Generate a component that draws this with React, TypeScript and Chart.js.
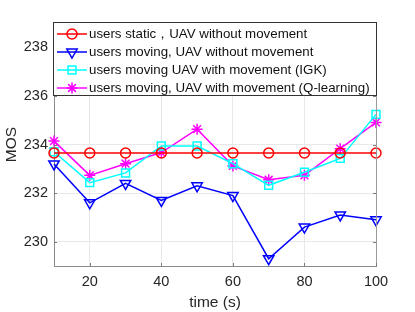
import React, { useEffect, useRef } from 'react';
import { Chart, registerables } from 'chart.js';

Chart.register(...registerables);

const timeSec = [10, 20, 30, 40, 50, 60, 70, 80, 90, 100];
const staticNoMove = [233.65, 233.65, 233.65, 233.65, 233.65, 233.65, 233.65, 233.65, 233.65, 233.65];
const movingNoMove = [233.2, 231.6, 232.4, 231.7, 232.3, 231.9, 229.3, 230.6, 231.1, 230.9];
const movingIGK = [233.7, 232.43, 232.83, 233.94, 233.94, 233.21, 232.32, 232.86, 233.43, 235.24];
const movingQL = [234.14, 232.73, 233.21, 233.67, 234.63, 233.12, 232.55, 232.73, 233.83, 234.91];
const xTicks = [20, 40, 60, 80, 100];
const yTicks = [230, 232, 234, 236, 238];
const seriesLabels = [
  'users static，UAV without movement',
  'users moving, UAV without movement',
  'users moving UAV with movement (IGK)',
  'users moving, UAV with movement (Q-learning)',
];

const FONT = "'Liberation Sans', Arial, Helvetica, sans-serif";

function drawMarker(ctx: CanvasRenderingContext2D, style: string, x: number, y: number, r: number, rotation: number) {
  ctx.beginPath();
  if (style === 'circle') {
    ctx.arc(x, y, r, 0, Math.PI * 2);
  } else if (style === 'triangle') {
    let rad = (rotation * Math.PI) / 180;
    ctx.moveTo(x + Math.sin(rad) * r, y - Math.cos(rad) * r);
    rad += (2 * Math.PI) / 3;
    ctx.lineTo(x + Math.sin(rad) * r, y - Math.cos(rad) * r);
    rad += (2 * Math.PI) / 3;
    ctx.lineTo(x + Math.sin(rad) * r, y - Math.cos(rad) * r);
    ctx.closePath();
  } else if (style === 'rect') {
    const s = Math.SQRT1_2 * r;
    ctx.rect(x - s, y - s, 2 * s, 2 * s);
  } else if (style === 'star') {
    ctx.moveTo(x - r, y);
    ctx.lineTo(x + r, y);
    ctx.moveTo(x, y - r);
    ctx.lineTo(x, y + r);
    const d = Math.SQRT1_2 * r;
    ctx.moveTo(x - d, y - d);
    ctx.lineTo(x + d, y + d);
    ctx.moveTo(x - d, y + d);
    ctx.lineTo(x + d, y - d);
  }
  ctx.stroke();
}

const matlabPlugin = {
  id: 'matlabDecor',
  afterDatasetsDraw(chart: any) {
    const ctx: CanvasRenderingContext2D = chart.ctx;
    const { left, right, top, bottom } = chart.chartArea;
    const xs = chart.scales.x;
    const ys = chart.scales.y;
    ctx.save();
    // box top/right
    ctx.strokeStyle = '#9a9a9a';
    ctx.lineWidth = 1;
    ctx.beginPath();
    ctx.moveTo(left, top + 0.5);
    ctx.lineTo(right + 0.5, top + 0.5);
    ctx.lineTo(right + 0.5, bottom);
    ctx.stroke();
    // inward ticks
    ctx.strokeStyle = '#7a7a7a';
    ctx.beginPath();
    yTicks.forEach((v) => {
      const py = Math.round(ys.getPixelForValue(v)) + 0.5;
      ctx.moveTo(left, py);
      ctx.lineTo(left + 3, py);
      ctx.moveTo(right, py);
      ctx.lineTo(right - 3, py);
    });
    xTicks.forEach((v) => {
      const px = Math.round(xs.getPixelForValue(v)) + 0.5;
      ctx.moveTo(px, bottom);
      ctx.lineTo(px, bottom - 3);
      ctx.moveTo(px, top);
      ctx.lineTo(px, top + 3);
    });
    ctx.stroke();

    // legend
    const lx = left - 1;
    const ly = top - 1;
    const lw = right - lx + 1;
    const lh = 74;
    ctx.fillStyle = '#ffffff';
    ctx.fillRect(lx, ly, lw, lh);
    ctx.strokeStyle = '#333333';
    ctx.lineWidth = 1;
    ctx.strokeRect(lx + 0.5, ly + 0.5, lw - 1, lh - 1);
    const rowY = [34, 52, 70, 88];
    ctx.font = `13.3px ${FONT}`;
    ctx.textBaseline = 'middle';
    ctx.textAlign = 'left';
    chart.data.datasets.forEach((ds: any, i: number) => {
      const y = rowY[i];
      ctx.strokeStyle = ds.borderColor;
      ctx.lineWidth = 1.5;
      ctx.beginPath();
      ctx.moveTo(57, y);
      ctx.lineTo(87, y);
      ctx.stroke();
      drawMarker(ctx, ds.pointStyle, 72, y, ds.pointRadius, ds.pointRotation || 0);
      ctx.fillStyle = '#111111';
      ctx.fillText(ds.label, 89, y + 0.5);
    });
    ctx.restore();
  },
};

export default function App() {
  const ref = useRef<HTMLCanvasElement | null>(null);
  useEffect(() => {
    document.body.style.margin = '0';
    if (!ref.current) return;
    const mk = (vals: number[]) => vals.map((v, i) => ({ x: timeSec[i], y: v }));
    const chart = new Chart(ref.current, {
      type: 'line',
      data: {
        datasets: [
          {
            label: seriesLabels[0],
            data: mk(staticNoMove),
            borderColor: '#ff0000',
            pointStyle: 'circle',
            pointRadius: 5,
          },
          {
            label: seriesLabels[1],
            data: mk(movingNoMove),
            borderColor: '#0000ff',
            pointStyle: 'triangle',
            pointRotation: 180,
            pointRadius: 6,
          },
          {
            label: seriesLabels[2],
            data: mk(movingIGK),
            borderColor: '#00ffff',
            pointStyle: 'rect',
            pointRadius: 5.6,
          },
          {
            label: seriesLabels[3],
            data: mk(movingQL),
            borderColor: '#ff00ff',
            pointStyle: 'star',
            pointRadius: 5.5,
          },
        ].map((d: any) => ({
          ...d,
          borderWidth: 1.5,
          pointBorderColor: d.borderColor,
          pointBackgroundColor: 'rgba(0,0,0,0)',
          pointBorderWidth: 1.5,
          pointHoverRadius: d.pointRadius,
          tension: 0,
          clip: false,
        })),
      },
      options: {
        animation: false,
        responsive: false,
        layout: { padding: { left: 0, top: 23, right: 39, bottom: 0 } },
        plugins: { legend: { display: false }, tooltip: { enabled: false } },
        scales: {
          x: {
            type: 'linear',
            min: 10,
            max: 100,
            afterBuildTicks: (s: any) => {
              s.ticks = xTicks.map((v) => ({ value: v }));
            },
            afterFit: (s: any) => {
              s.height = 46;
            },
            grid: { color: '#e8e8e8', drawTicks: false },
            border: { color: '#8a8a8a', width: 1 },
            ticks: { padding: 7, color: '#262626', font: { family: FONT, size: 14.5 } },
            title: {
              display: true,
              text: 'time (s)',
              color: '#262626',
              font: { family: FONT, size: 15.5 },
              padding: { top: 0, bottom: 0 },
            },
          },
          y: {
            type: 'linear',
            min: 229,
            max: 239,
            afterBuildTicks: (s: any) => {
              s.ticks = yTicks.map((v) => ({ value: v }));
            },
            afterFit: (s: any) => {
              s.width = 54;
            },
            grid: { color: '#e8e8e8', drawTicks: false },
            border: { color: '#8a8a8a', width: 1 },
            ticks: { padding: 6, color: '#262626', font: { family: FONT, size: 14.5 } },
            title: {
              display: true,
              text: 'MOS',
              color: '#262626',
              font: { family: FONT, size: 15.5 },
              padding: { top: 2.7, bottom: 0 },
            },
          },
        },
      },
      plugins: [matlabPlugin],
    } as any);
    return () => chart.destroy();
  }, []);
  return (
    <div style={{ width: 415, height: 312 }}>
      <canvas ref={ref} width={415} height={312} style={{ width: 415, height: 312, display: 'block' }} />
    </div>
  );
}
